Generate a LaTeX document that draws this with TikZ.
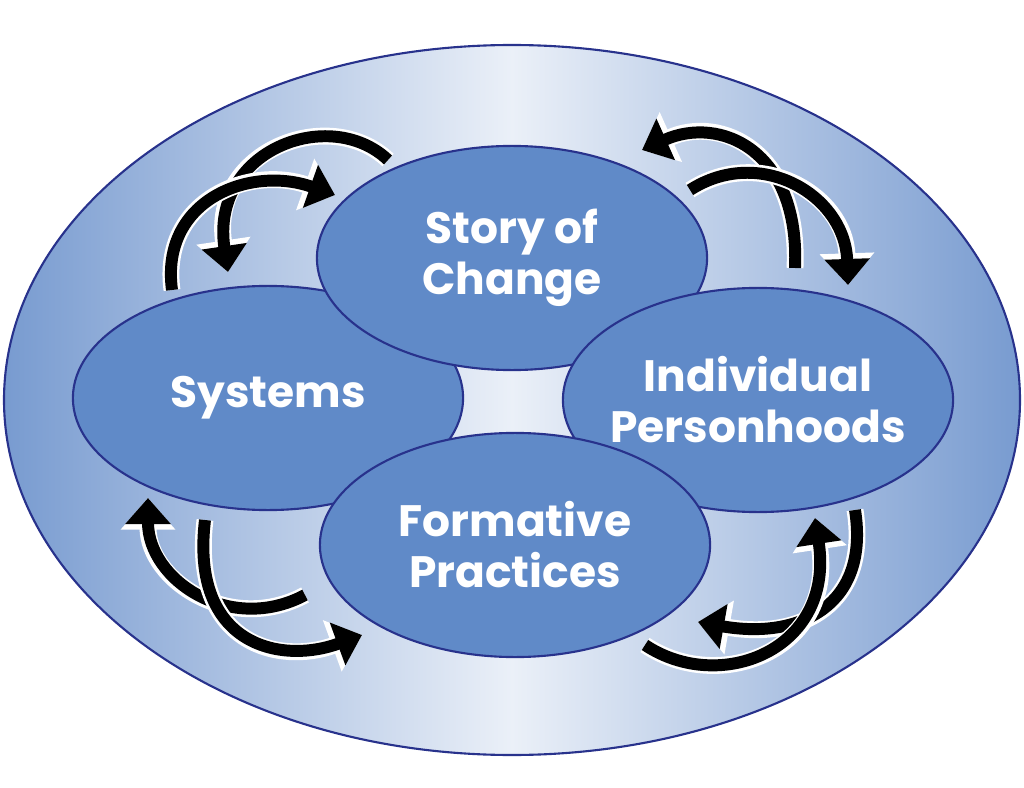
\documentclass[tikz,border=0pt]{standalone}
\usepackage{fontspec}
\setmainfont{Poppins}
\usetikzlibrary{arrows.meta,shapes.geometric}
\definecolor{outerblue}{RGB}{120,155,208}
\definecolor{innerblue}{RGB}{96,138,200}
\definecolor{rimblue}{RGB}{40,50,140}
\tikzset{
  circle ring/.style={draw=rimblue, line width=0.6pt, fill=innerblue, ellipse,
    minimum width=3.9cm, minimum height=2.24cm},
  circle text/.style={text=white, font=\fontsize{12.5}{14.5}\selectfont\bfseries, align=center},
  cycle arrow/.style={line width=3.4pt, -{Triangle[length=7.4pt,width=12.5pt]},
    preaction={draw=white, line width=4.8pt, -{Triangle[length=9pt,width=15pt]}}}
}
\begin{document}
\begin{tikzpicture}[x=0.01cm, y=-0.01cm]
\useasboundingbox (0,0) rectangle (1024,788);
% outer ellipse
\shade[shading angle=55, left color=outerblue, right color=outerblue, middle color=white!85!outerblue]
  (512,400) ellipse [x radius=508, y radius=355];
\draw[rimblue, line width=0.6pt] (512,400) ellipse [x radius=508, y radius=355];
% four ellipses
\node[circle ring] (systems) at (268,398) {};
\node[circle ring] (story) at (512,258) {};
\node[circle ring] (persons) at (758,400) {};
\node[circle ring] (practices) at (515,545) {};
\node[circle text] at (systems) {Systems};
\node[circle text] at (story) {Story of\\Change};
\node[circle text] at (persons) {Individual\\Personhoods};
\node[circle text] at (practices) {Formative\\Practices};
% arrows, top left
\coordinate (tl1) at (388,160); \coordinate (tl2) at (228,272);
\coordinate (tl3) at (172,290); \coordinate (tl4) at (335,195);
\draw[cycle arrow] (tl1) .. controls (330,105) and (210,150) .. (tl2);
\draw[cycle arrow] (tl3) .. controls (160,200) and (250,165) .. (tl4);
% arrows, top right
\coordinate (tr1) at (795,268); \coordinate (tr2) at (642,150);
\coordinate (tr3) at (690,190); \coordinate (tr4) at (848,285);
\draw[cycle arrow] (tr1) .. controls (800,150) and (720,115) .. (tr2);
\draw[cycle arrow] (tr3) .. controls (760,145) and (845,195) .. (tr4);
% arrows, bottom left
\coordinate (bl1) at (305,595); \coordinate (bl2) at (148,498);
\coordinate (bl3) at (205,520); \coordinate (bl4) at (362,635);
\draw[cycle arrow] (bl1) .. controls (230,635) and (148,580) .. (bl2);
\draw[cycle arrow] (bl3) .. controls (190,645) and (280,665) .. (bl4);
% arrows, bottom right
\coordinate (br1) at (855,510); \coordinate (br2) at (698,622);
\coordinate (br3) at (645,645); \coordinate (br4) at (815,518);
\draw[cycle arrow] (br1) .. controls (870,605) and (800,640) .. (br2);
\draw[cycle arrow] (br3) .. controls (720,695) and (835,650) .. (br4);
\end{tikzpicture}
\end{document}
